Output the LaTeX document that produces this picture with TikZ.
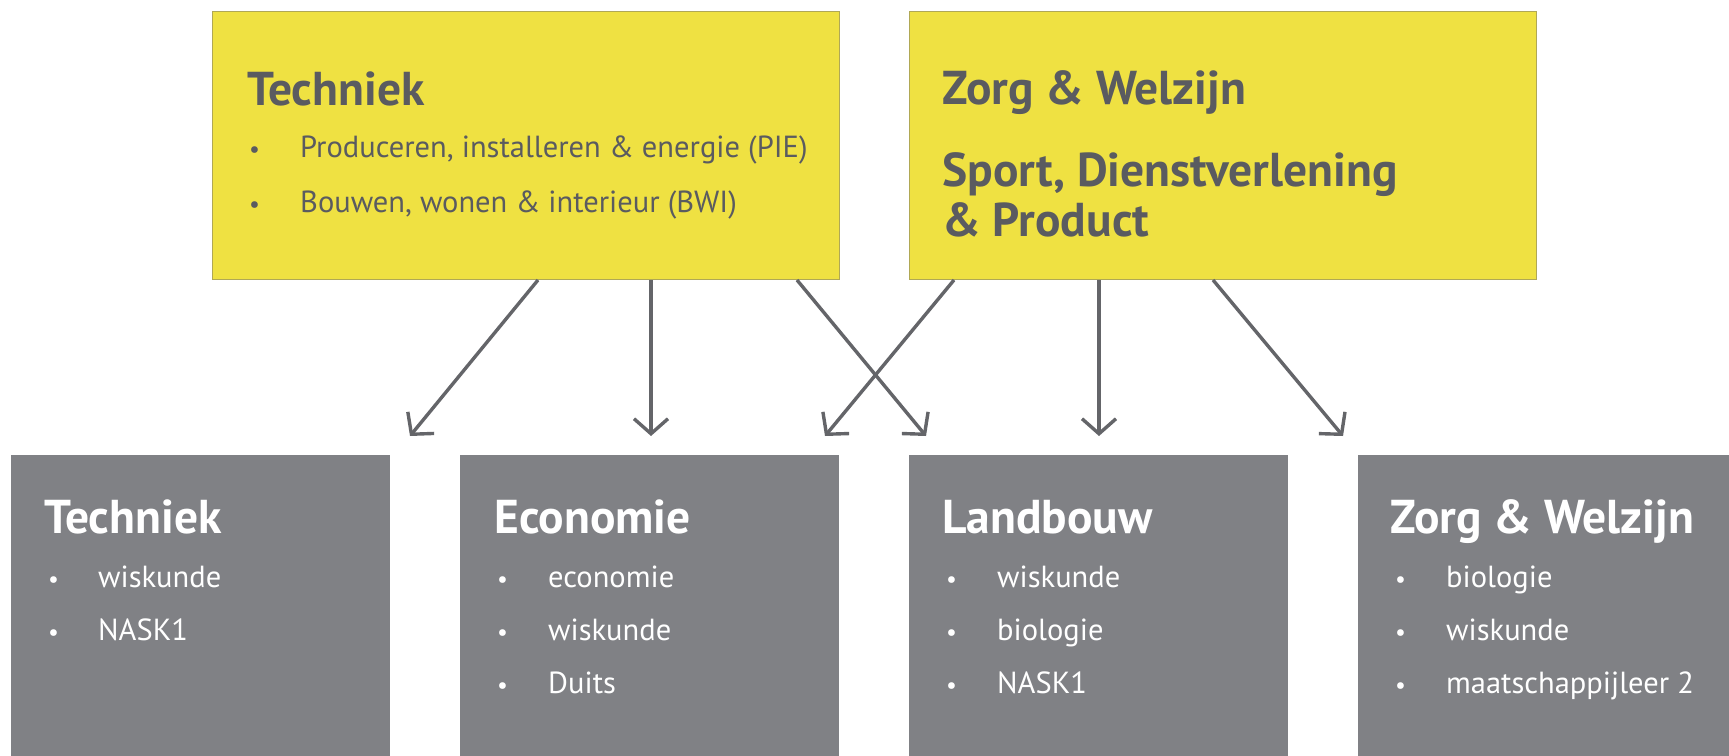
\documentclass[tikz,border=0pt]{standalone}
\usepackage{fontspec}
\setmainfont{PT Sans}
\usetikzlibrary{arrows.meta}
\definecolor{ylw}{HTML}{EFE142}
\definecolor{ylwborder}{HTML}{B0A855}
\definecolor{gbox}{HTML}{808185}
\definecolor{dtext}{HTML}{5A5B60}
\definecolor{arrc}{HTML}{646569}
\tikzset{
  ybox/.style={draw=ylwborder, line width=1pt, fill=ylw, anchor=north west, inner sep=0pt, minimum width=627pt, minimum height=268pt},
  gboxs/.style={fill=gbox, anchor=north west, inner sep=0pt, minimum width=379pt, minimum height=310pt},
  ttl/.style={anchor=base west, inner sep=0pt, font=\fontsize{47.5}{52}\selectfont\bfseries},
  itm/.style={anchor=base west, inner sep=0pt, font=\fontsize{30.5}{36}\selectfont},
  bul/.style={anchor=base west, inner sep=0pt, font=\fontsize{24}{30}\selectfont},
  arr/.style={draw=arrc, line width=3.4pt, -{Straight Barb[length=15pt,width=34pt]}},
}
\begin{document}
\begin{tikzpicture}[x=1pt,y=-1pt]
\useasboundingbox (0,0) rectangle (1729,755);
% top boxes
\node[ybox] (tA) at (212,11) {};
\node[ybox] (tB) at (909,11) {};
% bottom boxes
\node[gboxs] (b1) at (11,455) {};
\node[gboxs] (b2) at (460,455) {};
\node[gboxs] (b3) at (909,455) {};
\node[gboxs] (b4) at (1358,455) {};
% top A text
\node[ttl, text=dtext] (tAt) at (247,105) {Techniek};
\node[bul, text=dtext] (tAb1) at (249,157) {•};
\node[itm, text=dtext] (tAi1) at (300,157) {Produceren, installeren \& energie (PIE)};
\node[bul, text=dtext] (tAb2) at (249,212) {•};
\node[itm, text=dtext] (tAi2) at (300,212) {Bouwen, wonen \& interieur (BWI)};
% top B text
\node[ttl, text=dtext] (tBt1) at (942,104) {Zorg \& Welzijn};
\node[ttl, text=dtext] (tBt2) at (942,186) {Sport, Dienstverlening};
\node[ttl, text=dtext] (tBt3) at (942,236) {\& Product};
% bottom 1
\node[ttl, text=white] (b1t) at (44,533) {Techniek};
\node[bul, text=white] (b1b1) at (48,587) {•};
\node[itm, text=white] (b1i1) at (98,587) {wiskunde};
\node[bul, text=white] (b1b2) at (48,640) {•};
\node[itm, text=white] (b1i2) at (98,640) {NASK1};
% bottom 2
\node[ttl, text=white] (b2t) at (494,533) {Economie};
\node[bul, text=white] (b2b1) at (497,587) {•};
\node[itm, text=white] (b2i1) at (548,587) {economie};
\node[bul, text=white] (b2b2) at (497,640) {•};
\node[itm, text=white] (b2i2) at (548,640) {wiskunde};
\node[bul, text=white] (b2b3) at (497,693) {•};
\node[itm, text=white] (b2i3) at (548,693) {Duits};
% bottom 3
\node[ttl, text=white] (b3t) at (942,533) {Landbouw};
\node[bul, text=white] (b3b1) at (946,587) {•};
\node[itm, text=white] (b3i1) at (997,587) {wiskunde};
\node[bul, text=white] (b3b2) at (946,640) {•};
\node[itm, text=white] (b3i2) at (997,640) {biologie};
\node[bul, text=white] (b3b3) at (946,693) {•};
\node[itm, text=white] (b3i3) at (997,693) {NASK1};
% bottom 4
\node[ttl, text=white] (b4t) at (1390,533) {Zorg \& Welzijn};
\node[bul, text=white] (b4b1) at (1395,587) {•};
\node[itm, text=white] (b4i1) at (1446,587) {biologie};
\node[bul, text=white] (b4b2) at (1395,640) {•};
\node[itm, text=white] (b4i2) at (1446,640) {wiskunde};
\node[bul, text=white] (b4b3) at (1395,693) {•};
\node[itm, text=white] (b4i3) at (1446,693) {maatschappijleer 2};
% arrow ends
\coordinate (e1) at (410,436);
\coordinate (e2) at (651,436);
\coordinate (e3) at (926,436);
\coordinate (e4) at (825,436);
\coordinate (e5) at (1099,436);
\coordinate (e6) at (1343,436);
% arrows
\draw[arr] ([xshift=326pt]tA.south west) -- (e1);
\draw[arr] ([xshift=439pt]tA.south west) -- (e2);
\draw[arr] ([xshift=585pt]tA.south west) -- (e3);
\draw[arr] ([xshift=45pt]tB.south west) -- (e4);
\draw[arr] ([xshift=190pt]tB.south west) -- (e5);
\draw[arr] ([xshift=304pt]tB.south west) -- (e6);
\end{tikzpicture}
\end{document}
